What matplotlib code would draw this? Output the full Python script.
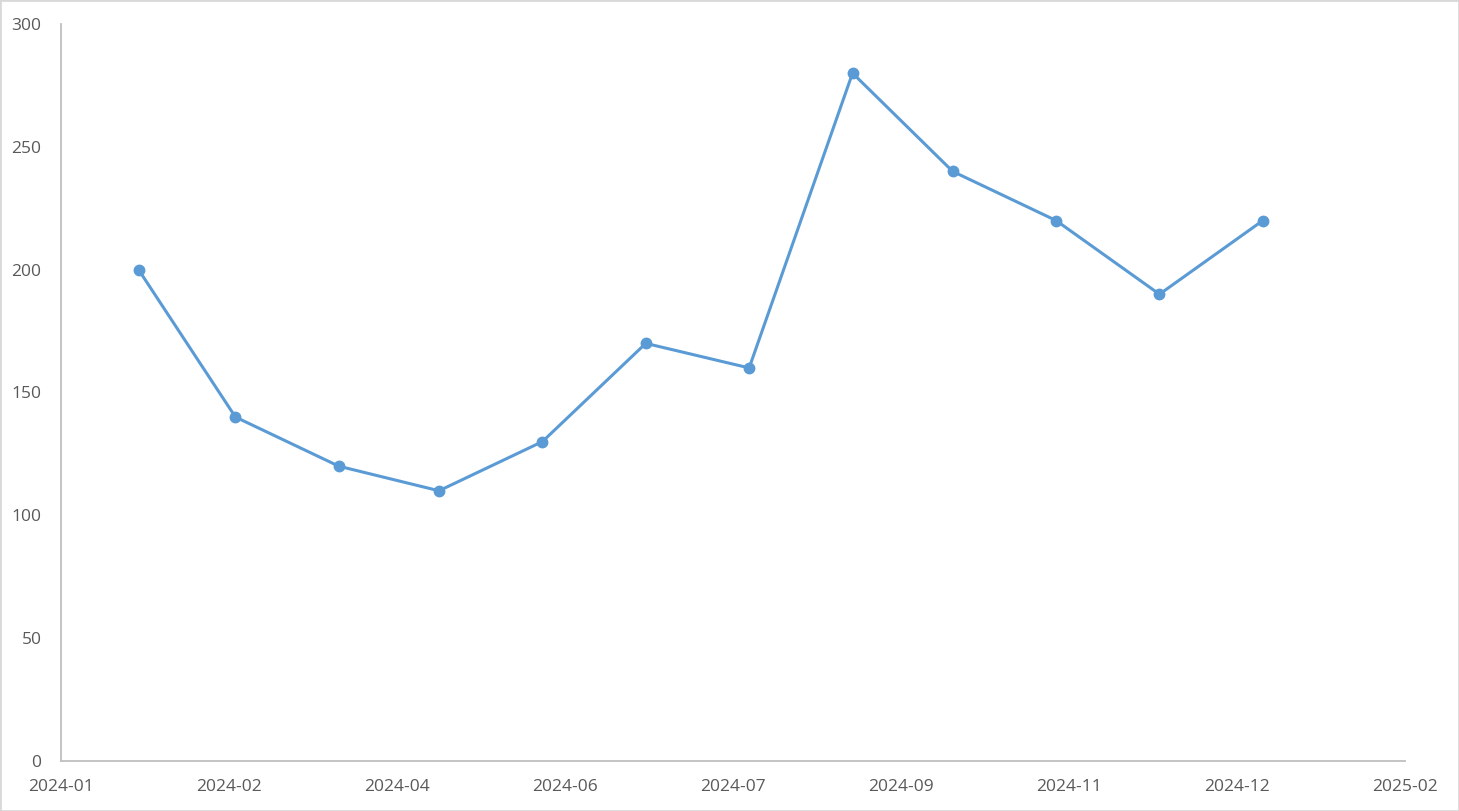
import matplotlib
matplotlib.use("Agg")
import matplotlib.pyplot as plt
import matplotlib.dates as mdates
from matplotlib.patches import Rectangle
import pandas as pd

dates = ["2024-01-25", "2024-02-24", "2024-03-27", "2024-04-27", "2024-05-29", "2024-06-30",
         "2024-08-01", "2024-09-02", "2024-10-03", "2024-11-04", "2024-12-06", "2025-01-07"]
values = [200, 140, 120, 110, 130, 170, 160, 280, 240, 220, 190, 220]

x_start = pd.Timestamp("2024-01-01")
tick_days = 52
n_ticks = 9

plt.rcParams['font.family'] = ['Open Sans', 'DejaVu Sans']

fig = plt.figure(figsize=(14.59, 8.11), dpi=100)
fig.patches.append(Rectangle((0, 0), 1, 1, transform=fig.transFigure, fill=False,
                             edgecolor='#D9D9D9', linewidth=2))
ax = fig.add_axes([61 / 1459, 50 / 811, 1344 / 1459, 737 / 811])

x = pd.to_datetime(dates)
ax.plot(x, values, color='#5B9BD5', linewidth=2.2, marker='o', markersize=7.5)

ticks = [x_start + pd.Timedelta(days=tick_days * i) for i in range(n_ticks)]
ax.set_xlim(ticks[0], ticks[-1])
ax.set_xticks(ticks)
ax.xaxis.set_major_formatter(mdates.DateFormatter('%Y-%m'))
ax.set_ylim(0, 300)
ax.set_yticks(range(0, 301, 50))

for s in ['top', 'right']:
    ax.spines[s].set_visible(False)
for s in ['left', 'bottom']:
    ax.spines[s].set_color('#BFBFBF')
    ax.spines[s].set_linewidth(1.3)
ax.tick_params(axis='both', length=0, labelsize=12.5, labelcolor='#595959')
ax.tick_params(axis='y', pad=14)
ax.tick_params(axis='x', pad=13)

fig.savefig("out.png", dpi=100)
